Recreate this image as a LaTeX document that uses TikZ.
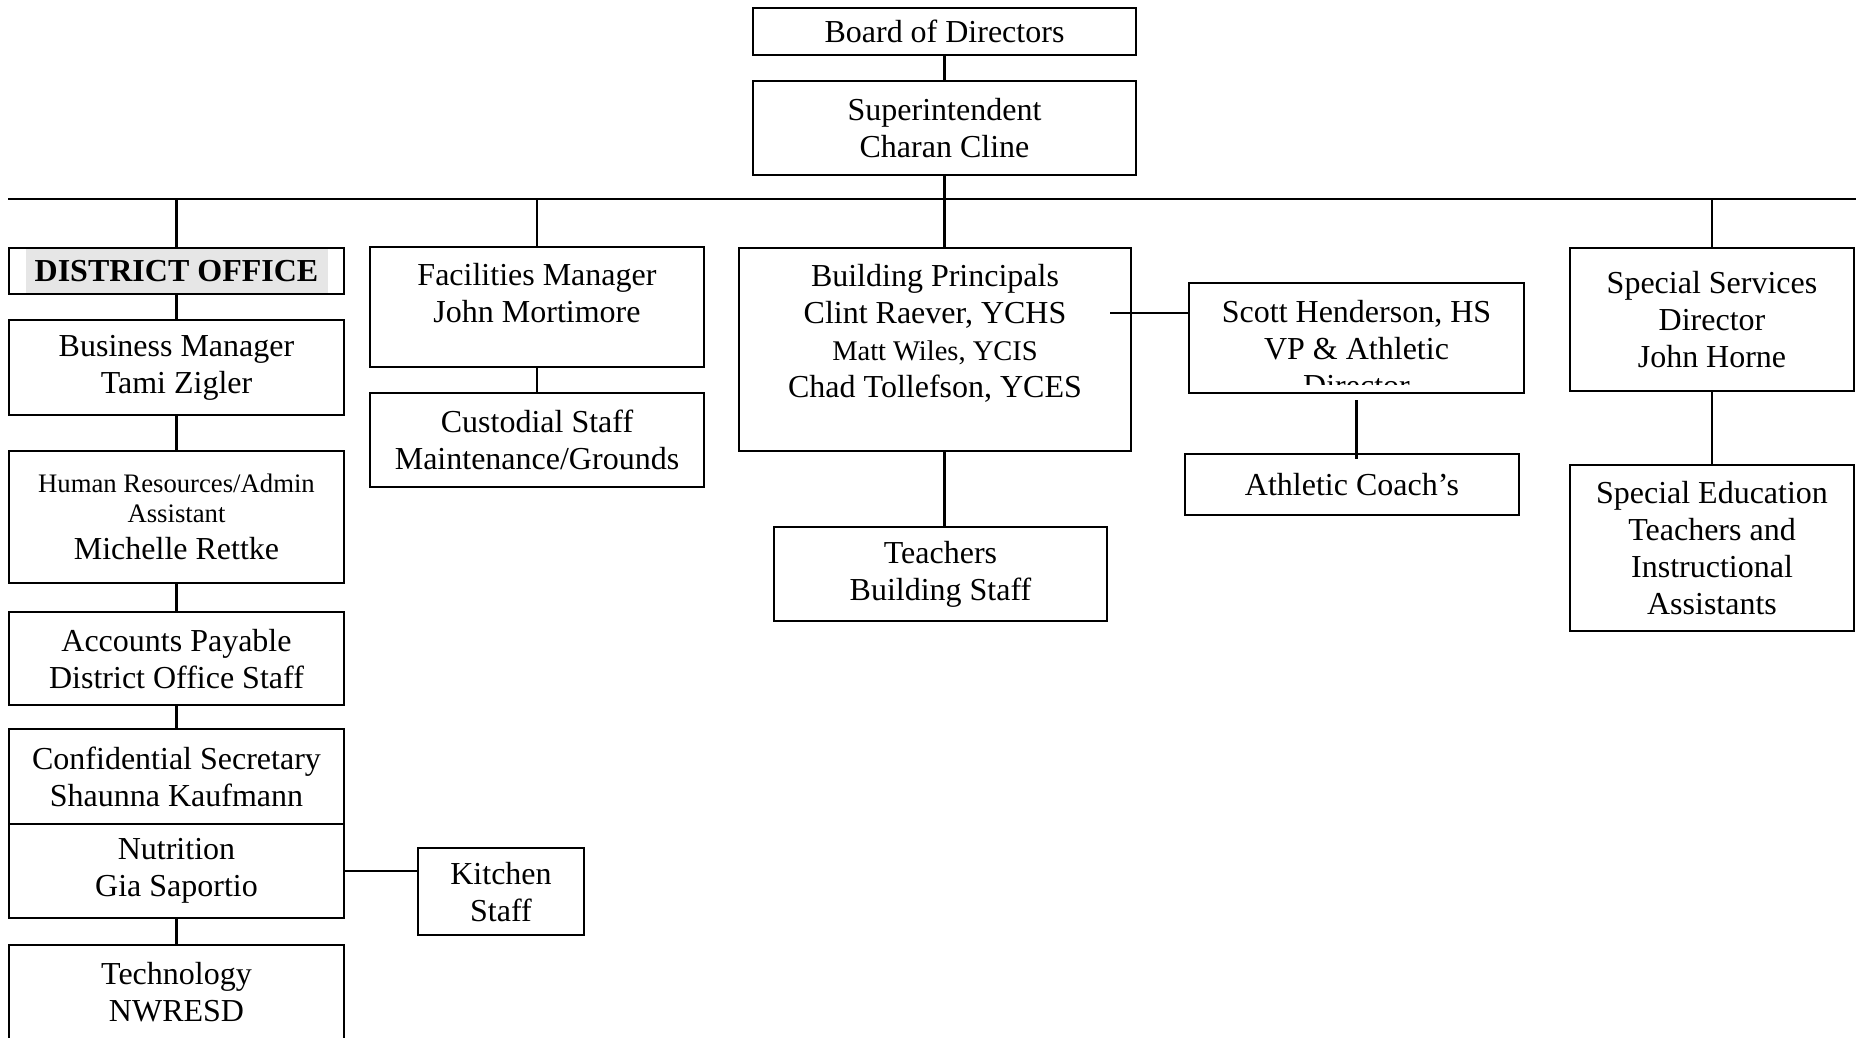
\documentclass[tikz,border=0pt]{standalone}
\usepackage{fontspec}
\setmainfont{Liberation Serif}
\usepackage{tikz}
\usepackage{xcolor}

\definecolor{dogray}{HTML}{E6E6E6}
\newcommand{\boxfont}{\fontsize{32}{37}\selectfont}
\newcommand{\minorfont}{\fontsize{26.7}{30}\selectfont}

\begin{document}
\begin{tikzpicture}[x=1pt, y=-1pt, line width=2.2pt,
    every node/.style={font=\boxfont},
    box/.style={draw, anchor=north, align=flush center, inner xsep=0pt, inner ysep=0pt}]
                        \useasboundingbox (0,0) rectangle (1856,1037);

                        % top of the chart
                        \node[box, text width=383pt, minimum height=47pt] (board) at (944.5,7) {Board of Directors};
                        \node[box, text width=383pt, minimum height=94pt] (supt) at (944.5,80) {Superintendent\\Charan Cline};

                        \coordinate (busl) at (8,199);
                        \coordinate (busr) at (1856,199);

                        % district office column
                        \node[box, text width=335pt, minimum height=46pt, font=\boxfont\bfseries,
                            path picture={\fill[dogray] ([xshift=17pt]path picture bounding box.south west) rectangle ([xshift=-16pt]path picture bounding box.north east);}]
                            (do) at (176.5,247) {DISTRICT OFFICE};
                        \node[box, text width=335pt, minimum height=95pt] (bm) at (176.5,319) {Business Manager\\Tami Zigler};
                        \node[box, text width=335pt, minimum height=132pt] (hr) at (176.5,450) {\minorfont Human Resources/Admin\\Assistant\par\boxfont Michelle Rettke};
                        \node[box, text width=335pt, minimum height=93pt] (ap) at (176.5,611) {Accounts Payable\\District Office Staff};
                        \node[box, text width=335pt, minimum height=95pt] (cs) at (176.5,728) {Confidential Secretary\\Shaunna Kaufmann};
                        \node[box, text width=335pt, minimum height=94pt] (nut) at (176.5,823) {Nutrition\\Gia Saportio};
                        \node[box, text width=335pt, minimum height=94pt] (tech) at (176.5,944) {Technology\\NWRESD};
                        \node[box, text width=166pt, minimum height=87pt] (kit) at (501,847) {Kitchen\\Staff};

                        % facilities
                        \node[box, text width=334pt, text height=38pt, text depth=82pt] (fac) at (537,246) {Facilities Manager\\John Mortimore};
                        \node[box, text width=334pt, minimum height=94pt] (cust) at (537,392) {Custodial Staff\\Maintenance/Grounds};

                        % buildings
                        \node[box, text width=392pt, text height=38pt, text depth=165pt] (bp) at (935,247) {Building Principals\\Clint Raever, YCHS\\{\fontsize{28.5}{37}\selectfont Matt Wiles, YCIS}\\Chad Tollefson, YCES};
                        \node[box, text width=333pt, minimum height=94pt] (teach) at (940.5,526) {Teachers\\Building Staff};
                        \coordinate (bpout) at (1110,313);

                        \node[box, text width=335pt, minimum height=110pt] (sh) at (1356.5,282) {};
                        \begin{scope}
                            \clip (sh.north west) rectangle ([yshift=10pt]sh.south east);
                            \node[anchor=north, align=center, inner sep=0pt] (shtext) at ([yshift=-17pt]sh.north) {Scott Henderson, HS\\VP \& Athletic\\Director};
                        \end{scope}
                        \node[box, text width=334pt, minimum height=61pt] (coach) at (1352,453) {Athletic Coach’s};

                        % special services
                        \node[box, text width=284pt, minimum height=143pt] (ss) at (1712,247) {Special Services\\Director\\John Horne};
                        \node[box, text width=284pt, minimum height=166pt] (sped) at (1712,464) {Special Education\\Teachers and\\Instructional\\Assistants};

                        \draw
                        (busl) edge (busr)
                        (board) edge (supt)
                        (supt) edge (supt.south |- bp.north)
                        (do.north |- busl) edge (do)
                        (fac.north |- busl) edge (fac)
                        (ss.north |- busl) edge (ss)
                        (do) edge (bm)
                        (bm) edge (hr)
                        (hr) edge (ap)
                        (ap) edge (cs)
                        (nut) edge (tech)
                        (nut.east) edge (nut.east -| kit.west)
                        (fac) edge (cust)
                        (supt.south |- bp.south) edge (supt.south |- teach.north)
                        (bpout) edge (sh.west |- bpout)
                        (sh) edge[shorten <=6pt, shorten >=-6pt] (sh.south |- coach.north)
                        (ss) edge (sped);
                    \end{tikzpicture}
\end{document}
